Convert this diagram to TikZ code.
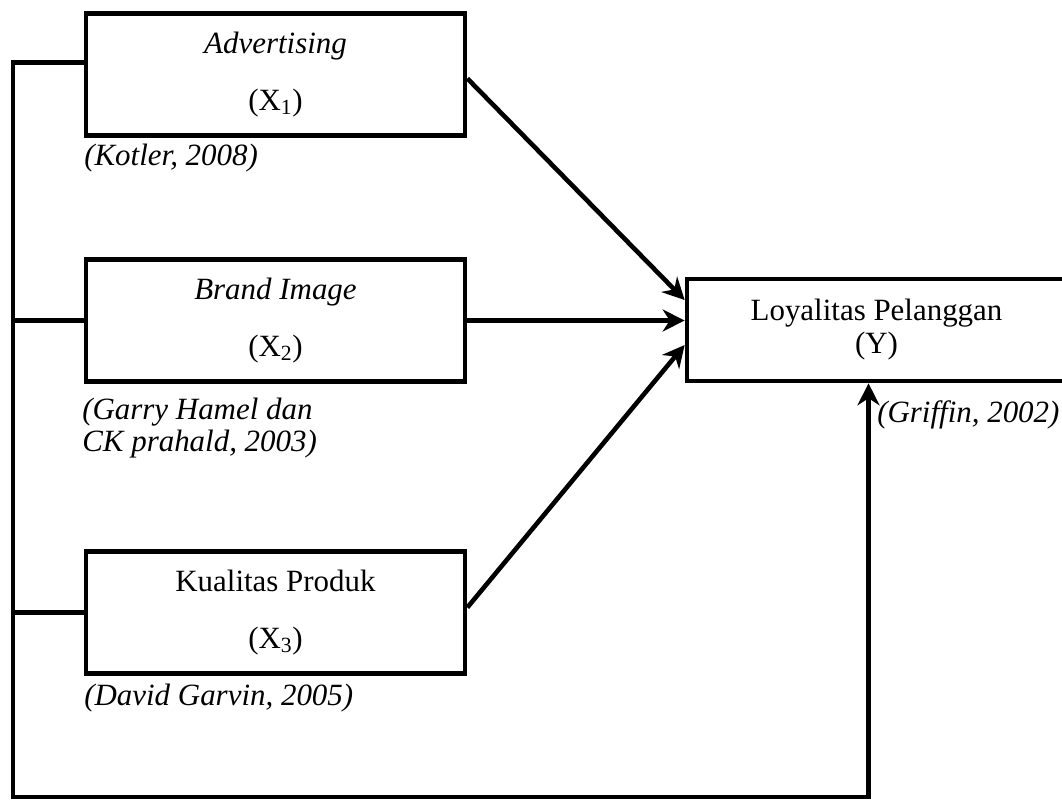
\documentclass[tikz,border=0pt]{standalone}
\usepackage{fontspec}
\setmainfont{Liberation Serif}
\usetikzlibrary{arrows.meta,calc}

\begin{document}
\begin{tikzpicture}[x=0.025cm,y=-0.025cm,
    var/.style={draw, line width=0.115cm, minimum width=9.475cm, minimum height=3.05cm,
      inner sep=0pt, align=center, font=\fontsize{22}{23.5}\selectfont},
    ref/.style={inner sep=0pt, anchor=west, align=left, font=\fontsize{22}{23}\selectfont\itshape},
    wire/.style={line width=0.115cm},
    arr/.style={line width=0.115cm, -{Stealth[length=0.55cm,width=0.55cm]}}]
  \useasboundingbox (0,0) rectangle (1062,801);
  % variables
  \node[var] (x1) at (275.5,74.5) {\textit{Advertising}\\[17pt](X\textsubscript{1})};
  \node[var] (x2) at (275.5,320.5) {\textit{Brand Image}\\[17pt](X\textsubscript{2})};
  \node[var] (x3) at (275.5,612.5) {Kualitas Produk\\[17pt](X\textsubscript{3})};
  \node[var, minimum height=2.55cm] (y) at (876.5,330) {Loyalitas Pelanggan\\(Y)};
  % sources
  \node[ref] (r1) at (84,158) {(Kotler, 2008)};
  \node[ref] (r2) at (82,428) {(Garry Hamel dan\\CK prahald, 2003)};
  \node[ref] (r3) at (84,698) {(David Garvin, 2005)};
  \node[ref] (r4) at (877,415) {(Griffin, 2002)};
  \coordinate (bus) at (13,797);
  % connectors
  \draw[arr] ($(x1.east)+(0,4)$) -- ($(y.west)+(0,-30)$);
  \draw[arr] (x2.east) -- (x2.west -| y.west);
  \draw[arr] ($(x3.east)+(0,-5)$) -- ($(y.west)+(0,15)$);
  \draw[wire] (x2.west) -- (x2.west -| bus);
  \draw[wire] (x3.west) -- (x3.west -| bus);
  \draw[arr] ($(x1.west)+(0,-12)$) -| (bus) -| ($(y.south)+(-8,0)$);
\end{tikzpicture}
\end{document}
